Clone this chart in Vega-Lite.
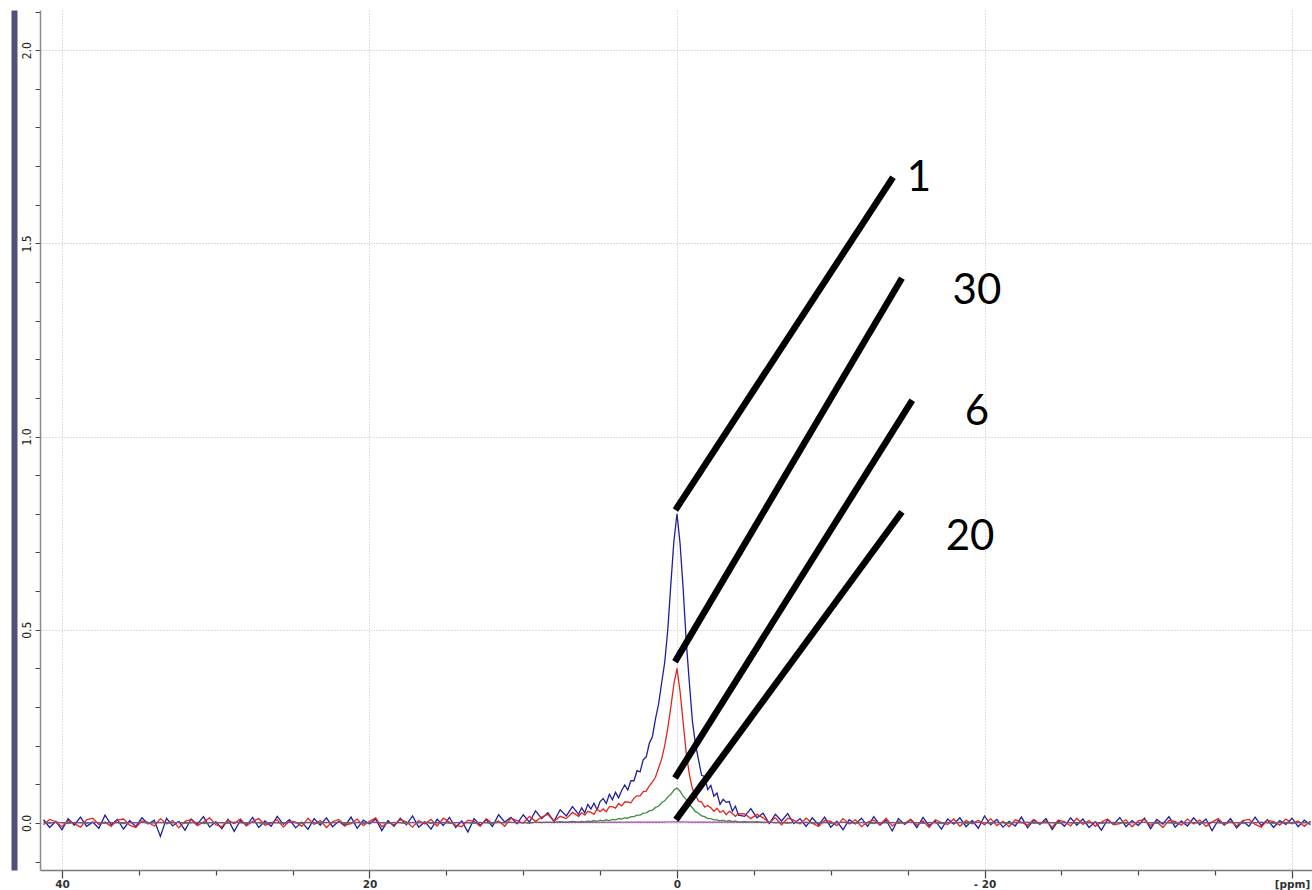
{
  "$schema": "https://vega.github.io/schema/vega-lite/v6.json",
  "width": 1272,
  "height": 860,
  "autosize": {"type": "none"},
  "padding": {"left": 40, "top": 10, "right": 0, "bottom": 20},
  "background": "white",
  "config": {"view": {"stroke": null}},
  "resolve": {"axis": {"y": "independent"}},
  "datasets": {
    "spec": [
      {"x":41.2,"a":0.008,"b":-0.005,"c":0.001},{"x":40.8,"a":-0.012,"b":0.009,"c":-0.001},{"x":40.4,"a":0.004,"b":0.003,"c":0.002},{"x":40.0,"a":-0.018,"b":-0.010,"c":0},
      {"x":39.6,"a":0.011,"b":0.006,"c":-0.002},{"x":39.2,"a":-0.006,"b":-0.002,"c":0.001},{"x":38.8,"a":0.015,"b":-0.011,"c":0},{"x":38.4,"a":-0.009,"b":0.008,"c":-0.001},
      {"x":38.0,"a":0.002,"b":0.012,"c":0.002},{"x":37.6,"a":-0.014,"b":-0.004,"c":0},{"x":37.2,"a":0.020,"b":0.002,"c":-0.001},{"x":36.8,"a":-0.005,"b":-0.009,"c":0.001},
      {"x":36.4,"a":0.009,"b":0.007,"c":0},{"x":36.0,"a":-0.016,"b":0.010,"c":-0.002},{"x":35.6,"a":0.006,"b":-0.006,"c":0.001},{"x":35.2,"a":-0.010,"b":-0.012,"c":0},
      {"x":34.8,"a":0.013,"b":0.005,"c":0.002},{"x":34.4,"a":-0.003,"b":0.001,"c":-0.001},{"x":34.0,"a":0.007,"b":-0.008,"c":0},{"x":33.6,"a":-0.035,"b":0.011,"c":0.001},
      {"x":33.2,"a":0.012,"b":-0.003,"c":-0.001},{"x":32.8,"a":-0.008,"b":0.006,"c":0},{"x":32.4,"a":0.004,"b":-0.013,"c":0.002},{"x":32.0,"a":-0.019,"b":0.004,"c":-0.001},
      {"x":31.6,"a":0.010,"b":0.009,"c":0},{"x":31.2,"a":-0.004,"b":-0.007,"c":0.001},{"x":30.8,"a":0.016,"b":0.002,"c":-0.002},{"x":30.4,"a":-0.011,"b":0.013,"c":0},
      {"x":30.0,"a":0.003,"b":-0.005,"c":0.001},{"x":29.6,"a":-0.015,"b":-0.010,"c":0},{"x":29.2,"a":0.009,"b":0.007,"c":-0.001},{"x":28.8,"a":-0.022,"b":-0.002,"c":0.002},
      {"x":28.4,"a":0.006,"b":0.010,"c":0},{"x":28.0,"a":-0.007,"b":-0.008,"c":-0.001},{"x":27.6,"a":0.014,"b":0.004,"c":0.001},{"x":27.2,"a":-0.012,"b":0.011,"c":0},
      {"x":26.8,"a":0.005,"b":-0.006,"c":-0.002},{"x":26.4,"a":-0.009,"b":-0.001,"c":0.001},{"x":26.0,"a":0.017,"b":0.008,"c":0},{"x":25.6,"a":-0.004,"b":-0.011,"c":-0.001},
      {"x":25.2,"a":0.008,"b":0.005,"c":0.002},{"x":24.8,"a":-0.013,"b":0.002,"c":0},{"x":24.4,"a":0.002,"b":-0.009,"c":-0.001},{"x":24.0,"a":-0.017,"b":0.012,"c":0.001},
      {"x":23.6,"a":0.011,"b":-0.004,"c":0},{"x":23.2,"a":-0.006,"b":0.006,"c":-0.002},{"x":22.8,"a":0.013,"b":-0.012,"c":0.001},{"x":22.4,"a":-0.010,"b":0.003,"c":0},
      {"x":22.0,"a":0.004,"b":0.009,"c":0.002},{"x":21.6,"a":-0.008,"b":-0.006,"c":-0.001},{"x":21.2,"a":0.015,"b":-0.002,"c":0},{"x":20.8,"a":-0.014,"b":0.010,"c":0.001},
      {"x":20.4,"a":0.007,"b":-0.007,"c":-0.001},{"x":20.0,"a":-0.003,"b":0.004,"c":0},{"x":19.6,"a":0.010,"b":0.013,"c":0.002},{"x":19.2,"a":-0.020,"b":-0.010,"c":0},
      {"x":18.8,"a":0.006,"b":0.001,"c":-0.001},{"x":18.4,"a":-0.009,"b":-0.005,"c":0.001},{"x":18.0,"a":0.012,"b":0.008,"c":0},{"x":17.6,"a":-0.005,"b":0.003,"c":-0.002},
      {"x":17.2,"a":0.018,"b":-0.011,"c":0.001},{"x":16.8,"a":-0.011,"b":0.006,"c":0},{"x":16.4,"a":0.003,"b":-0.003,"c":0.002},{"x":16.0,"a":-0.016,"b":0.009,"c":-0.001},
      {"x":15.6,"a":0.009,"b":-0.008,"c":0},{"x":15.2,"a":-0.007,"b":0.012,"c":0.001},{"x":14.8,"a":0.014,"b":0.002,"c":-0.001},{"x":14.4,"a":-0.012,"b":-0.006,"c":0},
      {"x":14.0,"a":0.005,"b":-0.010,"c":0.002},{"x":13.6,"a":-0.024,"b":0.007,"c":0},{"x":13.2,"a":0.011,"b":0.004,"c":-0.001},{"x":12.8,"a":-0.006,"b":-0.009,"c":0.001},
      {"x":12.4,"a":0.008,"b":0.011,"c":0},{"x":12.0,"a":-0.009,"b":-0.002,"c":-0.001},{"x":11.6,"a":0.021,"b":0.005,"c":0.001},{"x":11.2,"a":0.002,"b":-0.009,"c":0},
      {"x":10.8,"a":0.014,"b":0.012,"c":0.002},{"x":10.4,"a":-0.002,"b":0.006,"c":0},{"x":10.0,"a":0.021,"b":-0.001,"c":0.001},{"x":9.6,"a":0.002,"b":0.017,"c":-0.001},
      {"x":9.2,"a":0.031,"b":0.004,"c":0.002},{"x":8.8,"a":0.011,"b":0.015,"c":0.001},{"x":8.4,"a":0.026,"b":0.022,"c":0.002},{"x":8.0,"a":0.004,"b":0.004,"c":0.001},
      {"x":7.6,"a":0.034,"b":0.017,"c":0.003},{"x":7.2,"a":0.018,"b":0.011,"c":0.002},{"x":6.8,"a":0.042,"b":0.027,"c":0.004},{"x":6.4,"a":0.022,"b":0.017,"c":0.002},
      {"x":6.2,"a":0.039,"b":0.026,"c":0.004},{"x":6.0,"a":0.026,"b":0.020,"c":0.002},{"x":5.8,"a":0.048,"b":0.030,"c":0.005},{"x":5.6,"a":0.036,"b":0.027,"c":0.003},
      {"x":5.4,"a":0.051,"b":0.022,"c":0.006},{"x":5.2,"a":0.034,"b":0.036,"c":0.004},{"x":5.0,"a":0.055,"b":0.029,"c":0.007},{"x":4.8,"a":0.063,"b":0.036,"c":0.005},
      {"x":4.6,"a":0.050,"b":0.029,"c":0.008},{"x":4.4,"a":0.074,"b":0.042,"c":0.006},{"x":4.2,"a":0.060,"b":0.042,"c":0.009},{"x":4.0,"a":0.079,"b":0.038,"c":0.008},
      {"x":3.8,"a":0.065,"b":0.050,"c":0.011},{"x":3.6,"a":0.084,"b":0.044,"c":0.010},{"x":3.4,"a":0.098,"b":0.054,"c":0.013},{"x":3.2,"a":0.085,"b":0.054,"c":0.012},
      {"x":3.0,"a":0.109,"b":0.052,"c":0.016},{"x":2.8,"a":0.109,"b":0.064,"c":0.016},{"x":2.6,"a":0.135,"b":0.070,"c":0.020},{"x":2.4,"a":0.132,"b":0.070,"c":0.020},
      {"x":2.2,"a":0.163,"b":0.081,"c":0.025},{"x":2.0,"a":0.171,"b":0.082,"c":0.026},{"x":1.8,"a":0.206,"b":0.096,"c":0.031},{"x":1.6,"a":0.223,"b":0.106,"c":0.033},
      {"x":1.4,"a":0.269,"b":0.118,"c":0.040},{"x":1.2,"a":0.307,"b":0.142,"c":0.043},{"x":1.0,"a":0.362,"b":0.165,"c":0.052},{"x":0.8,"a":0.415,"b":0.200,"c":0.057},
      {"x":0.6,"a":0.500,"b":0.245,"c":0.067},{"x":0.4,"a":0.618,"b":0.300,"c":0.074},{"x":0.2,"a":0.730,"b":0.360,"c":0.085},{"x":0.0,"a":0.800,"b":0.400,"c":0.090},
      {"x":-0.2,"a":0.723,"b":0.340,"c":0.082},{"x":-0.4,"a":0.606,"b":0.260,"c":0.069},{"x":-0.6,"a":0.470,"b":0.180,"c":0.060},{"x":-0.8,"a":0.365,"b":0.127,"c":0.047},
      {"x":-1.0,"a":0.264,"b":0.088,"c":0.039},{"x":-1.2,"a":0.204,"b":0.073,"c":0.029},{"x":-1.4,"a":0.163,"b":0.056,"c":0.025},{"x":-1.6,"a":0.123,"b":0.054,"c":0.018},
      {"x":-1.8,"a":0.120,"b":0.041,"c":0.016},{"x":-2.0,"a":0.086,"b":0.045,"c":0.011},{"x":-2.2,"a":0.097,"b":0.039,"c":0.011},{"x":-2.4,"a":0.069,"b":0.030,"c":0.008},
      {"x":-2.6,"a":0.077,"b":0.038,"c":0.008},{"x":-2.8,"a":0.048,"b":0.027,"c":0.005},{"x":-3.0,"a":0.061,"b":0.032,"c":0.007},{"x":-3.2,"a":0.053,"b":0.021,"c":0.004},
      {"x":-3.4,"a":0.055,"b":0.030,"c":0.006},{"x":-3.6,"a":0.030,"b":0.024,"c":0.003},{"x":-3.8,"a":0.043,"b":0.017,"c":0.005},{"x":-4.0,"a":0.020,"b":0.024,"c":0.002},
      {"x":-4.4,"a":0.017,"b":0.023,"c":0.003},{"x":-4.8,"a":0.037,"b":0.011,"c":0.002},{"x":-5.2,"a":0.013,"b":0.022,"c":0.003},{"x":-5.6,"a":0.025,"b":0.013,"c":0.001},
      {"x":-6.0,"a":-0.002,"b":0.001,"c":0.002},{"x":-6.4,"a":0.022,"b":0.013,"c":0},{"x":-6.8,"a":0.005,"b":-0.005,"c":0.001},{"x":-7.2,"a":0.024,"b":0.012,"c":-0.001},
      {"x":-7.6,"a":-0.002,"b":0.007,"c":0.001},{"x":-8.0,"a":0.011,"b":-0.003,"c":0},{"x":-8.4,"a":-0.009,"b":0.012,"c":0.002},{"x":-8.8,"a":0.013,"b":-0.001,"c":-0.001},
      {"x":-9.2,"a":-0.005,"b":-0.009,"c":0},{"x":-9.6,"a":0.015,"b":0.006,"c":0.001},{"x":-10.0,"a":-0.011,"b":0.004,"c":-0.001},{"x":-10.4,"a":0.004,"b":-0.007,"c":0},
      {"x":-10.8,"a":-0.018,"b":0.011,"c":0.002},{"x":-11.2,"a":0.008,"b":-0.003,"c":0},{"x":-11.6,"a":-0.003,"b":0.008,"c":-0.001},{"x":-12.0,"a":0.012,"b":-0.010,"c":0.001},
      {"x":-12.4,"a":-0.009,"b":0.002,"c":0},{"x":-12.8,"a":0.016,"b":0.007,"c":-0.002},{"x":-13.2,"a":-0.006,"b":-0.005,"c":0.001},{"x":-13.6,"a":0.007,"b":0.012,"c":0},
      {"x":-14.0,"a":-0.021,"b":-0.008,"c":0.001},{"x":-14.4,"a":0.011,"b":0.003,"c":-0.001},{"x":-14.8,"a":-0.004,"b":-0.001,"c":0},{"x":-15.2,"a":0.009,"b":0.009,"c":0.002},
      {"x":-15.6,"a":-0.012,"b":-0.006,"c":0},{"x":-16.0,"a":0.014,"b":0.005,"c":-0.001},{"x":-16.4,"a":-0.007,"b":-0.012,"c":0.001},{"x":-16.8,"a":0.005,"b":0.008,"c":0},
      {"x":-17.2,"a":-0.016,"b":0.001,"c":-0.002},{"x":-17.6,"a":0.010,"b":-0.004,"c":0.001},{"x":-18.0,"a":-0.003,"b":0.010,"c":0},{"x":-18.4,"a":0.013,"b":-0.009,"c":0.001},
      {"x":-18.8,"a":-0.010,"b":0.006,"c":-0.001},{"x":-19.2,"a":0.006,"b":-0.002,"c":0},{"x":-19.6,"a":-0.014,"b":0.007,"c":0.002},{"x":-20.0,"a":0.018,"b":-0.005,"c":0},
      {"x":-20.4,"a":-0.005,"b":0.011,"c":-0.001},{"x":-20.8,"a":0.009,"b":-0.007,"c":0.001},{"x":-21.2,"a":-0.011,"b":0.004,"c":0},{"x":-21.6,"a":0.004,"b":-0.010,"c":-0.002},
      {"x":-22.0,"a":-0.008,"b":0.008,"c":0.001},{"x":-22.4,"a":0.015,"b":0.002,"c":0},{"x":-22.8,"a":-0.013,"b":-0.006,"c":0.002},{"x":-23.2,"a":0.007,"b":0.009,"c":-0.001},
      {"x":-23.6,"a":-0.004,"b":-0.003,"c":0},{"x":-24.0,"a":0.011,"b":0.005,"c":0.001},{"x":-24.4,"a":-0.017,"b":-0.011,"c":0},{"x":-24.8,"a":0.006,"b":0.007,"c":-0.001},
      {"x":-25.2,"a":-0.009,"b":0.003,"c":0.001},{"x":-25.6,"a":0.013,"b":-0.008,"c":0},{"x":-26.0,"a":-0.006,"b":0.012,"c":-0.002},{"x":-26.4,"a":0.010,"b":-0.004,"c":0.001},
      {"x":-26.8,"a":-0.012,"b":0.006,"c":0},{"x":-27.2,"a":0.003,"b":-0.009,"c":0.002},{"x":-27.6,"a":-0.019,"b":0.002,"c":-0.001},{"x":-28.0,"a":0.008,"b":0.010,"c":0},
      {"x":-28.4,"a":-0.004,"b":-0.005,"c":0.001},{"x":-28.8,"a":0.014,"b":-0.002,"c":0},{"x":-29.2,"a":-0.010,"b":0.008,"c":-0.001},{"x":-29.6,"a":0.006,"b":-0.010,"c":0.001},
      {"x":-30.0,"a":-0.007,"b":0.005,"c":0},{"x":-30.4,"a":0.012,"b":0.009,"c":0.002},{"x":-30.8,"a":-0.015,"b":-0.007,"c":0},{"x":-31.2,"a":0.009,"b":0.003,"c":-0.001},
      {"x":-31.6,"a":-0.003,"b":-0.012,"c":0.001},{"x":-32.0,"a":0.016,"b":0.006,"c":0},{"x":-32.4,"a":-0.011,"b":0.004,"c":-0.002},{"x":-32.8,"a":0.005,"b":-0.006,"c":0.001},
      {"x":-33.2,"a":-0.008,"b":0.010,"c":0},{"x":-33.6,"a":0.013,"b":-0.003,"c":0.001},{"x":-34.0,"a":-0.005,"b":0.007,"c":-0.001},{"x":-34.4,"a":0.010,"b":-0.009,"c":0},
      {"x":-34.8,"a":-0.020,"b":0.002,"c":0.002},{"x":-35.2,"a":0.007,"b":0.011,"c":0},{"x":-35.6,"a":-0.006,"b":-0.005,"c":-0.001},{"x":-36.0,"a":0.011,"b":0.004,"c":0.001},
      {"x":-36.4,"a":-0.013,"b":-0.008,"c":0},{"x":-36.8,"a":0.004,"b":0.006,"c":-0.001},{"x":-37.2,"a":-0.009,"b":0.009,"c":0.001},{"x":-37.6,"a":0.015,"b":-0.004,"c":0},
      {"x":-38.0,"a":-0.007,"b":-0.011,"c":0.002},{"x":-38.4,"a":0.008,"b":0.007,"c":0},{"x":-38.8,"a":-0.012,"b":0.003,"c":-0.001},{"x":-39.2,"a":0.006,"b":-0.006,"c":0.001},
      {"x":-39.6,"a":-0.004,"b":0.010,"c":0},{"x":-40.0,"a":0.012,"b":-0.002,"c":-0.001},{"x":-40.4,"a":-0.010,"b":0.005,"c":0.001},{"x":-40.8,"a":0.007,"b":-0.009,"c":0},
      {"x":-41.2,"a":-0.005,"b":0.004,"c":0.001}
    ],
    "purple": [
      {"x":41.2,"y":0.001},{"x":10,"y":0.001},{"x":3,"y":0.002},{"x":1,"y":0.002},{"x":0,"y":0.003},{"x":-1,"y":0.002},{"x":-3,"y":0.002},{"x":-10,"y":0.001},{"x":-41.2,"y":0.001}
    ],
    "notes": [
      {"lab":"1","x1":0.1,"y1":0.81,"x2":-14.05,"y2":1.671,"tx":-15.74,"ty":1.669},
      {"lab":"30","x1":0.13,"y1":0.417,"x2":-14.63,"y2":1.41,"tx":-19.51,"ty":1.376},
      {"lab":"6","x1":0.13,"y1":0.116,"x2":-15.3,"y2":1.094,"tx":-19.51,"ty":1.063},
      {"lab":"20","x1":0.07,"y1":0.008,"x2":-14.63,"y2":0.805,"tx":-19.06,"ty":0.74}
    ]
  },
  "layer": [
    {
      "data": {"name": "spec"},
      "transform": [{"fold": ["a", "b", "c"], "as": ["key", "value"]}],
      "mark": {"type": "line", "strokeWidth": 1.3, "clip": true},
      "encoding": {
        "x": {
          "field": "x", "type": "quantitative", "title": null,
          "scale": {"domain": [41.43, -41.3], "nice": false, "zero": false},
          "axis": {
            "values": [40,35,30,25,20,15,10,5,0,-5,-10,-15,-20,-25,-30,-35,-40],
            "labelExpr": "datum.value==40?'40':datum.value==20?'20':datum.value==0?'0':datum.value==-20?'- 20':datum.value==-40?'[ppm]':''",
            "tickSize": {"condition": {"test": "datum.value % 20 == 0", "value": 8}, "value": 5},
            "grid": true,
            "gridOpacity": {"condition": {"test": "datum.value % 20 == 0", "value": 1}, "value": 0},
            "gridColor": "#bdbdbd", "gridDash": [1, 2], "gridWidth": 1,
            "domainColor": "#7a7a7a", "domainWidth": 1.5,
            "tickColor": "#444444", "tickWidth": 1.2,
            "labelFont": "DejaVu Sans", "labelFontSize": 10.5, "labelFontWeight": "bold", "labelColor": "#333333",
            "labelPadding": 1, "labelFlush": false, "labelOverlap": false, "labelBound": false
          }
        },
        "y": {
          "field": "value", "type": "quantitative", "title": null,
          "scale": {"domain": [-0.122, 2.104], "nice": false, "zero": false},
          "axis": {
            "values": [-0.1,0,0.1,0.2,0.3,0.4,0.5,0.6,0.7,0.8,0.9,1,1.1,1.2,1.3,1.4,1.5,1.6,1.7,1.8,1.9,2,2.1],
            "labelExpr": "abs(datum.value*2-round(datum.value*2))<0.001 ? format(datum.value,'.1f') : ''",
            "tickSize": 5,
            "grid": true,
            "gridOpacity": {"condition": {"test": "abs(datum.value*2-round(datum.value*2))<0.001", "value": 1}, "value": 0},
            "gridColor": "#bdbdbd", "gridDash": [1, 2], "gridWidth": 1,
            "domainColor": "#8a8a8a", "domainWidth": 1.5,
            "tickColor": "#444444", "tickWidth": 1,
            "labelAngle": -90, "labelAlign": "center", "labelBaseline": "bottom",
            "labelFont": "Liberation Sans Narrow, DejaVu Sans Condensed, Liberation Sans", "labelFontSize": 12, "labelColor": "#222222",
            "labelPadding": 2, "labelOverlap": false, "labelBound": false
          }
        },
        "color": {
          "field": "key", "type": "nominal", "legend": null,
          "scale": {"domain": ["a", "b", "c"], "range": ["#1f1f9e", "#e3261e", "#3d8f3d"]}
        }
      }
    },
    {
      "data": {"name": "purple"},
      "mark": {"type": "line", "strokeWidth": 1.1, "color": "#9b3fa6", "clip": true},
      "encoding": {
        "x": {"field": "x", "type": "quantitative", "title": null},
        "y": {
          "field": "y", "type": "quantitative", "title": null,
          "axis": {"orient": "left", "offset": 26, "domainColor": "#50507a", "domainWidth": 6, "labels": false, "ticks": false, "grid": false}
        }
      }
    },
    {
      "data": {"name": "notes"},
      "mark": {"type": "rule", "strokeWidth": 6.5, "color": "black", "strokeCap": "butt"},
      "encoding": {
        "x": {"field": "x1", "type": "quantitative", "title": null},
        "y": {"field": "y1", "type": "quantitative", "axis": null},
        "x2": {"field": "x2"},
        "y2": {"field": "y2"}
      }
    },
    {
      "data": {"name": "notes"},
      "mark": {"type": "text", "font": "Lato", "fontSize": 42, "color": "black", "align": "center", "baseline": "middle"},
      "encoding": {
        "x": {"field": "tx", "type": "quantitative", "title": null},
        "y": {"field": "ty", "type": "quantitative", "axis": null},
        "text": {"field": "lab"}
      }
    }
  ]
}
